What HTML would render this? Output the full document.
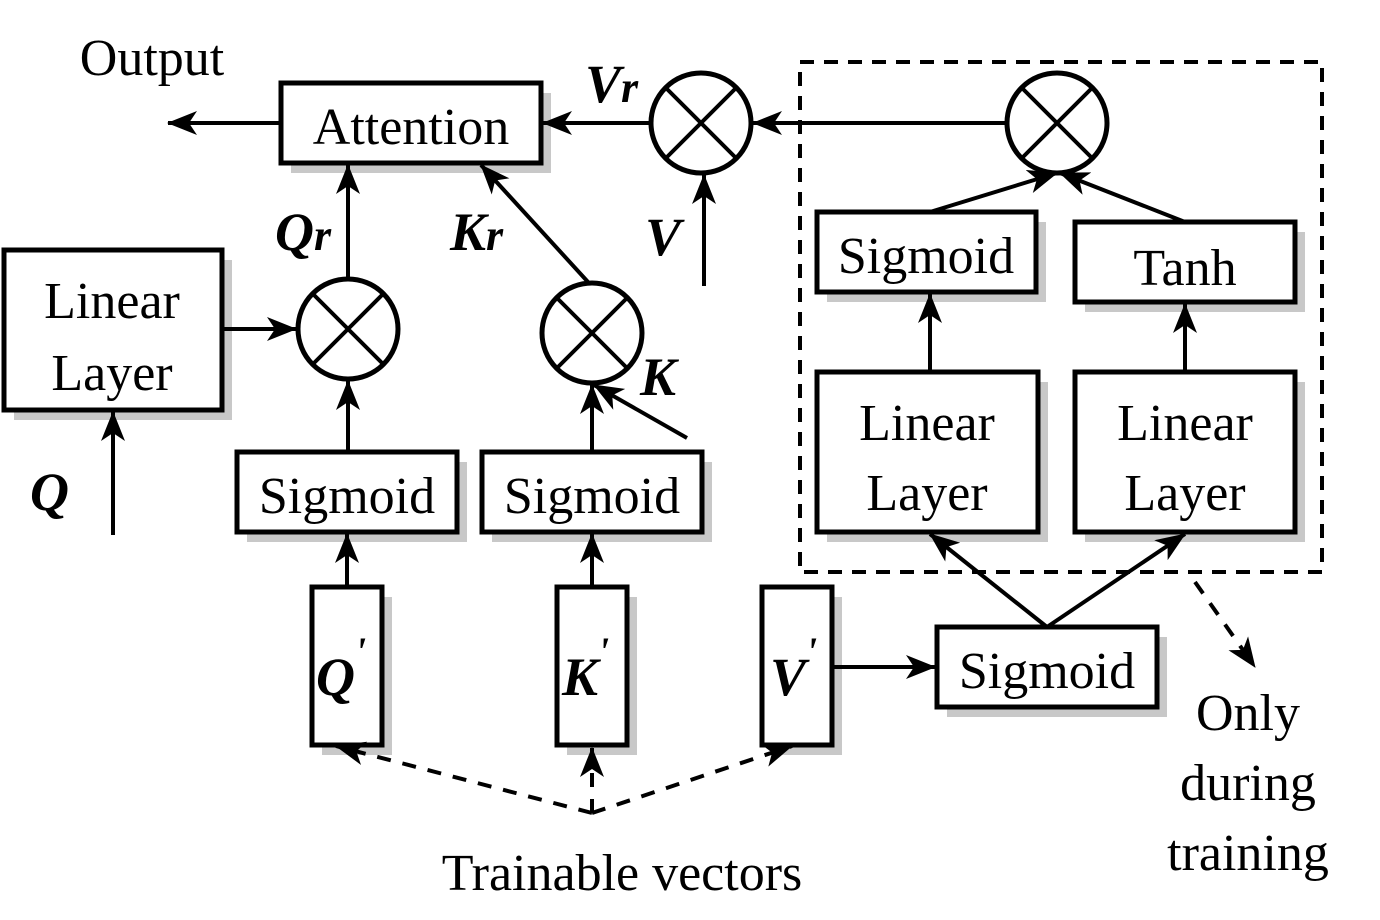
<!DOCTYPE html>
<html><head><meta charset="utf-8"><style>
html,body{margin:0;padding:0;background:#fff;}
svg{display:block;}
text{font-family:"Liberation Serif",serif;fill:#000;}
.b{font-weight:bold;font-style:italic;}
</style></head><body>
<svg width="1380" height="920" viewBox="0 0 1380 920" xmlns="http://www.w3.org/2000/svg">
<defs>
<marker id="a" markerWidth="10" markerHeight="10" refX="9" refY="5" orient="auto" markerUnits="userSpaceOnUse" viewBox="0 0 10 10">
</marker>
<marker id="ar" viewBox="0 0 30 24" refX="29" refY="12" markerWidth="30" markerHeight="24" orient="auto" markerUnits="userSpaceOnUse">
<path d="M0,0 L30,12 L0,24 L8,12 Z" fill="#000"/>
</marker>
</defs>
<g fill="#c8c8c8">
<rect x="291" y="93" width="260" height="80"/>
<rect x="14" y="260" width="218" height="160"/>
<rect x="247" y="462" width="220" height="80"/>
<rect x="492" y="462" width="220" height="80"/>
<rect x="322" y="597" width="70" height="158"/>
<rect x="567" y="597" width="70" height="158"/>
<rect x="772" y="597" width="70" height="158"/>
<rect x="947" y="637" width="220" height="80"/>
<rect x="827" y="222" width="219" height="80"/>
<rect x="1085" y="232" width="220" height="80"/>
<rect x="827" y="382" width="221" height="160"/>
<rect x="1085" y="382" width="220" height="160"/>
</g>
<g fill="#fff" stroke="#000" stroke-width="5">
<rect x="281" y="83" width="260" height="80"/>
<rect x="4" y="250" width="218" height="160"/>
<rect x="237" y="452" width="220" height="80"/>
<rect x="482" y="452" width="220" height="80"/>
<rect x="312" y="587" width="70" height="158"/>
<rect x="557" y="587" width="70" height="158"/>
<rect x="762" y="587" width="70" height="158"/>
<rect x="937" y="627" width="220" height="80"/>
<rect x="817" y="212" width="219" height="80"/>
<rect x="1075" y="222" width="220" height="80"/>
<rect x="817" y="372" width="221" height="160"/>
<rect x="1075" y="372" width="220" height="160"/>
<circle cx="701" cy="123" r="50"/>
<circle cx="1057" cy="123" r="50"/>
<circle cx="348" cy="329" r="50"/>
<circle cx="592" cy="333" r="50"/>
</g>
<g stroke="#000" stroke-width="4">
<path d="M666,88 L736,158 M736,88 L666,158"/>
<path d="M1022,88 L1092,158 M1092,88 L1022,158"/>
<path d="M313,294 L383,364 M383,294 L313,364"/>
<path d="M557,298 L627,368 M627,298 L557,368"/>
</g>
<rect x="800" y="62" width="522" height="510" fill="none" stroke="#000" stroke-width="4" stroke-dasharray="14,10"/>
<g stroke="#000" stroke-width="4" fill="none" marker-end="url(#ar)">
<line x1="281" y1="123" x2="168" y2="123"/>
<line x1="651" y1="123" x2="543" y2="123"/>
<line x1="1007" y1="123" x2="753" y2="123"/>
<line x1="704" y1="286" x2="704" y2="175"/>
<line x1="930" y1="212" x2="1057" y2="173"/>
<line x1="1185" y1="222" x2="1060" y2="173"/>
<line x1="930" y1="372" x2="930" y2="294"/>
<line x1="1185" y1="372" x2="1185" y2="304"/>
<line x1="1047" y1="627" x2="930" y2="534"/>
<line x1="1047" y1="627" x2="1185" y2="534"/>
<line x1="832" y1="667" x2="935" y2="667"/>
<line x1="347" y1="587" x2="347" y2="534"/>
<line x1="592" y1="587" x2="592" y2="534"/>
<line x1="348" y1="452" x2="348" y2="381"/>
<line x1="592" y1="452" x2="592" y2="385"/>
<line x1="687" y1="438" x2="594" y2="385"/>
<line x1="222" y1="329" x2="296" y2="329"/>
<line x1="348" y1="279" x2="348" y2="165"/>
<line x1="113" y1="535" x2="113" y2="412"/>
<line x1="588" y1="282" x2="481" y2="165"/>
</g>
<g stroke="#000" stroke-width="4" fill="none" stroke-dasharray="14,12" marker-end="url(#ar)">
<line x1="592" y1="813" x2="336" y2="746"/>
<line x1="592" y1="813" x2="592" y2="748"/>
<line x1="592" y1="813" x2="792" y2="746"/>
<line x1="1195" y1="582" x2="1255" y2="667"/>
</g>
<g font-size="52" text-anchor="middle">
<text x="152" y="75">Output</text>
<text x="411" y="144">Attention</text>
<text x="112" y="318">Linear</text>
<text x="112" y="390">Layer</text>
<text x="347" y="513">Sigmoid</text>
<text x="592" y="513">Sigmoid</text>
<text x="1047" y="688">Sigmoid</text>
<text x="926" y="273">Sigmoid</text>
<text x="1185" y="285">Tanh</text>
<text x="927" y="440">Linear</text>
<text x="927" y="510">Layer</text>
<text x="1185" y="440">Linear</text>
<text x="1185" y="510">Layer</text>
<text x="622" y="890">Trainable vectors</text>
<text x="1248" y="730">Only</text>
<text x="1248" y="800">during</text>
<text x="1248" y="870">training</text>
</g>
<g class="b" font-size="54">
<text x="585" y="102">V<tspan font-size="44">r</tspan></text>
<text x="645" y="255">V</text>
<text x="275" y="250">Q<tspan font-size="44">r</tspan></text>
<text x="450" y="250">K<tspan font-size="44">r</tspan></text>
<text x="640" y="395">K</text>
<text x="30" y="510">Q</text>
<text x="316" y="695">Q<tspan font-size="40" dy="-30">'</tspan></text>
<text x="562" y="695">K<tspan font-size="40" dy="-30">'</tspan></text>
<text x="770" y="695">V<tspan font-size="40" dy="-30">'</tspan></text>
</g>
</svg>
</body></html>
